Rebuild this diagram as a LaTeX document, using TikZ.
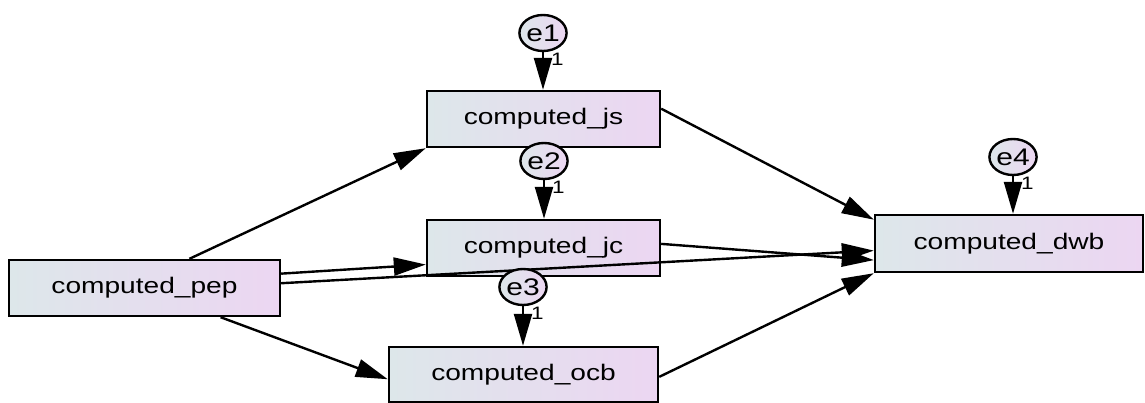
\documentclass[tikz,border=0pt]{standalone}
\usepackage{fontspec}
\setmainfont{Liberation Sans}
\usetikzlibrary{arrows.meta,shapes.geometric}
\definecolor{gl}{RGB}{221,231,234}
\definecolor{gr}{RGB}{236,214,242}
\tikzset{
  obs/.style={draw=black, line width=2.4pt, rectangle, left color=gl, right color=gr,
    minimum height=56pt, inner sep=0pt, font=\fontsize{22.5}{26}\selectfont},
  err/.style={draw=black, line width=2.4pt, ellipse, left color=gl, right color=gr,
    minimum width=47pt, minimum height=36pt, inner sep=0pt, font=\fontsize{24}{26}\selectfont},
  path/.style={line width=2.4pt, -{Triangle[length=32pt,width=18pt]}},
  one/.style={font=\fontsize{18}{20}\selectfont, inner sep=0pt, anchor=west},
}
\newcommand{\hs}[1]{\scalebox{1.25}[1]{#1}}
\begin{document}
\begin{tikzpicture}[x=1pt,y=-1pt]
\useasboundingbox (0,0) rectangle (1145,403);
\node[obs, minimum width=271pt] (pep) at (144.5,288) {\hs{computed\_pep}};
\node[obs, minimum width=233pt] (js) at (543.5,119) {\hs{computed\_js}};
\node[obs, minimum width=233pt] (jc) at (543.5,248) {\hs{computed\_jc}};
\node[obs, minimum width=269pt, minimum height=55pt] (ocb) at (523.5,374.5) {\hs{computed\_ocb}};
\node[obs, minimum width=268pt, minimum height=57pt] (dwb) at (1009,243.5) {\hs{computed\_dwb}};

% structural paths
\draw[path] (pep.33) -- (js.south west);
\draw[path] (js.5.9) -- (dwb.170.9);
\draw[path] (jc.2.5) -- (dwb.187.9);
\draw[path] (pep.2.1) -- (dwb.183.2);
\draw[path] (pep.6.3) -- (jc.188.3);
\draw[path] (pep.-21.1) -- (ocb.182.3);
\draw[path] (ocb.-1.1) -- (dwb.south west);

% errors
\node[err] (e1) at (543,33) {\hs{e1}};
\node[err] (e2) at (544,161) {\hs{e2}};
\node[err] (e3) at (523,287) {\hs{e3}};
\node[err] (e4) at (1013,157) {\hs{e4}};
\draw[path] (e1.south) -- (js.north -| e1.south) node[one, pos=0.18, xshift=7pt] {\hs{1}};
\draw[path] (e2.south) -- (jc.north -| e2.south) node[one, pos=0.18, xshift=7pt] {\hs{1}};
\draw[path] (e3.south) -- (ocb.north -| e3.south) node[one, pos=0.18, xshift=7pt] {\hs{1}};
\draw[path] (e4.south) -- (dwb.north -| e4.south) node[one, pos=0.18, xshift=7pt] {\hs{1}};
\end{tikzpicture}
\end{document}
